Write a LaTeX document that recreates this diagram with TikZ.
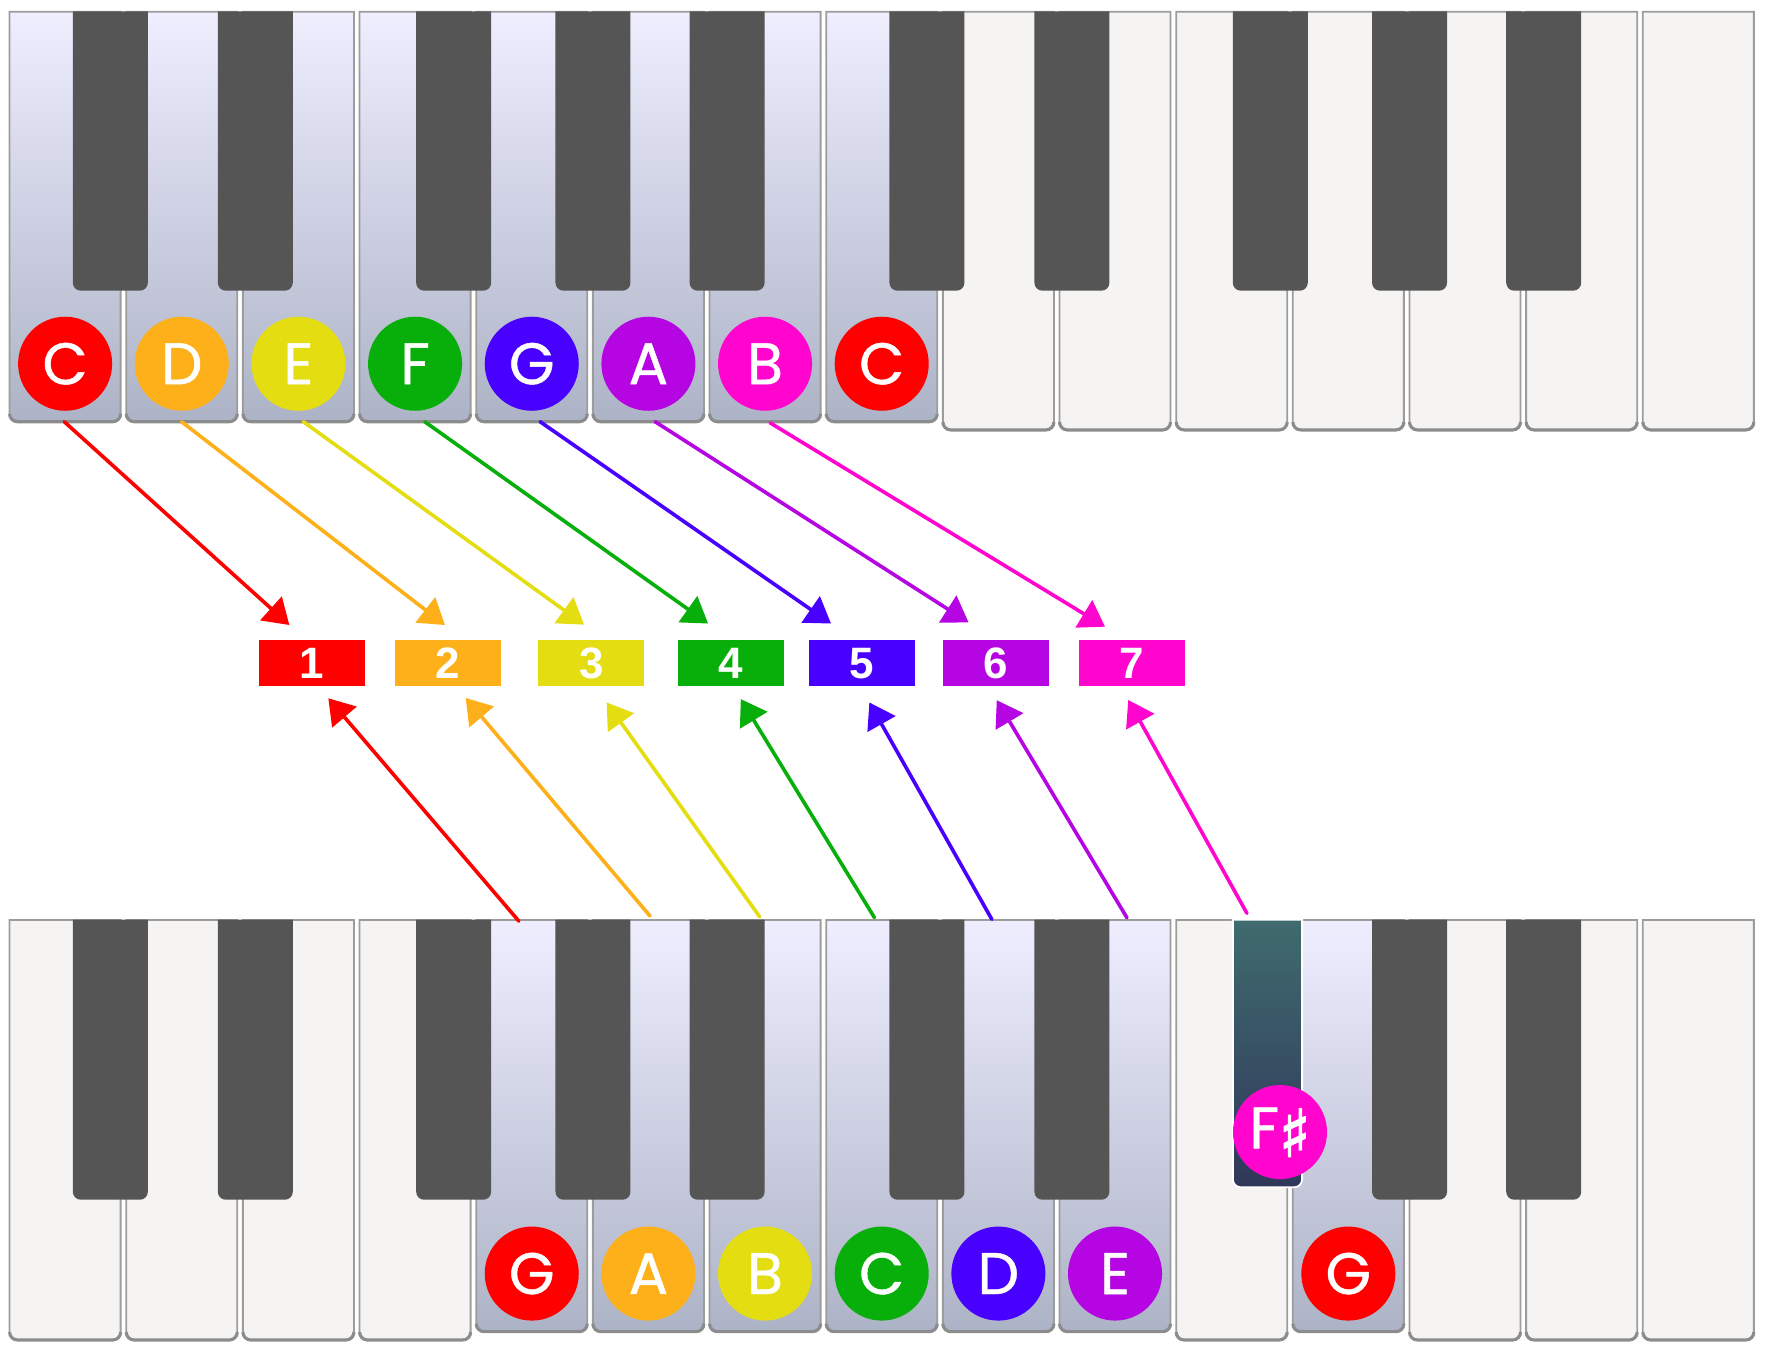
\documentclass[tikz,border=0pt]{standalone}
\usepackage{fontspec}
\usepackage{graphicx}
\setmainfont{Poppins}
\newfontfamily\notefont[FakeBold=0.8]{Poppins}
\newfontfamily\numfont{Liberation Sans}
\newfontfamily\symfont[FakeBold=2.5]{DejaVu Sans}
\usetikzlibrary{arrows.meta}
\definecolor{nC}{HTML}{FF0000}
\definecolor{nD}{HTML}{FDB019}
\definecolor{nE}{HTML}{E3DD12}
\definecolor{nF}{HTML}{08AF0A}
\definecolor{nG}{HTML}{4800FF}
\definecolor{nA}{HTML}{B505E3}
\definecolor{nB}{HTML}{FF05CE}
\definecolor{ktop}{HTML}{EEEEFF}
\definecolor{kbot}{HTML}{ADB3C6}
\definecolor{kplain}{HTML}{F5F4F2}
\definecolor{kbord}{HTML}{9C9C9C}
\definecolor{kshad}{HTML}{8C8C8C}
\definecolor{kblack}{HTML}{555555}
\definecolor{fstop}{HTML}{3F6B6E}
\definecolor{fsbot}{HTML}{30375A}
\newcommand\keyshape[6]{%
  \path[#1] (#2,#4) -- (#2,#5-#6) arc[start angle=180,end angle=90,radius=#6]
    -- (#3-#6,#5) arc[start angle=90,end angle=0,radius=#6] -- (#3,#4) -- cycle;}
\newcommand\keybottom[4]{%
  \draw[kshad, line width=1.4pt] (#1,#3-7) arc[start angle=180,end angle=90,radius=7]
    -- (#2-7,#3) arc[start angle=90,end angle=0,radius=7];}
\tikzset{
  wkeyhl/.style={draw=kbord, line width=0.8pt, top color=ktop, bottom color=kbot},
  wkeyplain/.style={draw=kbord, line width=0.8pt, fill=kplain},
  bkey/.style={fill=kblack},
  fskey/.style={draw=white, line width=0.8pt, top color=fstop, bottom color=fsbot},
  notec/.style={circle, minimum size=41.7pt, inner sep=0pt, text=white,
    font={\notefont\fontsize{26}{26}\selectfont}},
  numbox/.style={minimum width=47pt, minimum height=20.4pt, inner sep=0pt, text=white,
    font={\numfont\bfseries\fontsize{19.5}{20}\selectfont}},
  conn/.style={line width=1.6pt, line cap=round, -{Triangle[length=11pt,width=14pt]}},
}
\begin{document}
\begin{tikzpicture}[x=0.5pt,y=-0.5pt]
\useasboundingbox (0,0) rectangle (1568,1202.6);
% ---------- top keyboard ----------
\foreach \i in {0,...,14} {
  \pgfmathsetmacro\xa{8.5+\i*103.46}
  \pgfmathsetmacro\xb{\xa+98.5}
  \ifnum\i<8 \keyshape{wkeyhl}{\xa}{\xb}{10.4}{374}{7}\keybottom{\xa}{\xb}{374}{}%
  \else \keyshape{wkeyplain}{\xa}{\xb}{10.4}{381.3}{7}\keybottom{\xa}{\xb}{381.3}{}\fi
}
\foreach \b/\o in {1/-11.6,2/13.5,4/-17.5,5/2.6,6/18.1,8/-11.6,9/13.5,11/-17.5,12/2.6,13/18.1} {
  \pgfmathsetmacro\xa{6+\b*103.46+\o-33.25}
  \pgfmathsetmacro\xb{\xa+66.5}
  \keyshape{bkey}{\xa}{\xb}{10}{257.8}{7}
}
% ---------- bottom keyboard ----------
\foreach \i in {0,...,14} {
  \pgfmathsetmacro\xa{8.5+\i*103.46}
  \pgfmathsetmacro\xb{\xa+98.5}
  \pgfmathtruncatemacro\hl{((\i>3) && (\i<10)) || (\i==11)}
  \ifnum\hl=1 \keyshape{wkeyhl}{\xa}{\xb}{816}{1181}{7}\keybottom{\xa}{\xb}{1181}{}%
  \else \keyshape{wkeyplain}{\xa}{\xb}{816}{1188.4}{7}\keybottom{\xa}{\xb}{1188.4}{}\fi
}
\foreach \b/\o in {1/-11.6,2/13.5,4/-17.5,5/2.6,6/18.1,8/-11.6,9/13.5,12/2.6,13/18.1} {
  \pgfmathsetmacro\xa{6+\b*103.46+\o-33.25}
  \pgfmathsetmacro\xb{\xa+66.5}
  \keyshape{bkey}{\xa}{\xb}{815.6}{1064}{7}
}
\keyshape{fskey}{1093.4}{1154.8}{815.6}{1053}{7}
% ---------- note circles ----------
\foreach \i/\l/\c in {0/C/nC,1/D/nD,2/E/nE,3/F/nF,4/G/nG,5/A/nA,6/B/nB,7/C/nC} {
  \node[notec, fill=\c] (t\i) at ({57.75+\i*103.46},322.6) {\l};
}
\foreach \i/\l/\c in {4/G/nC,5/A/nD,6/B/nE,7/C/nF,8/D/nG,9/E/nA,11/G/nC} {
  \node[notec, fill=\c] (b\i) at ({57.75+\i*103.46},1129.5) {\l};
}
\node[notec, fill=nB] (bfs) at (1135.2,1004)
  {F\raisebox{-3.6pt}{\symfont\fontsize{29}{29}\selectfont ♯}};
% ---------- number boxes ----------
\foreach \n/\x/\c in {1/276.7/nC,2/397.5/nD,3/524.5/nE,4/648.5/nF,5/764.5/nG,6/883.5/nA,7/1003.5/nB} {
  \node[numbox, fill=\c] (n\n) at (\x,588.4) {\n};
}
% ---------- arrow end points ----------
\foreach \k/\sx/\sy/\ex/\ey in {1/57/374/256.6/554.3, 2/161/374/394.6/554.3, 3/269/374/518/554,
  4/376.7/374/628/553, 5/479/374/737/553, 6/581/374/859/552, 7/683/375/980/555.8} {
  \coordinate (ts\k) at (\sx,\sy);
  \coordinate (te\k) at (\ex,\ey);
}
\foreach \k/\sx/\sy/\ex/\ey in {1/460.2/817/291.2/619.3, 2/576.5/812.4/413/619, 3/673.7/813/538/623,
  4/775.5/813.8/657/620, 5/879.6/815.3/771/623, 6/999.5/814/884/621, 7/1105.9/810/1000.6/620.8} {
  \coordinate (bs\k) at (\sx,\sy);
  \coordinate (be\k) at (\ex,\ey);
}
% ---------- arrows ----------
\foreach \k/\c in {1/nC,2/nD,3/nE,4/nF,5/nG,6/nA,7/nB} {
  \draw[conn, draw=\c, fill=\c] (ts\k) -- (te\k);
  \draw[conn, draw=\c, fill=\c] (bs\k) -- (be\k);
}
\end{tikzpicture}
\end{document}
